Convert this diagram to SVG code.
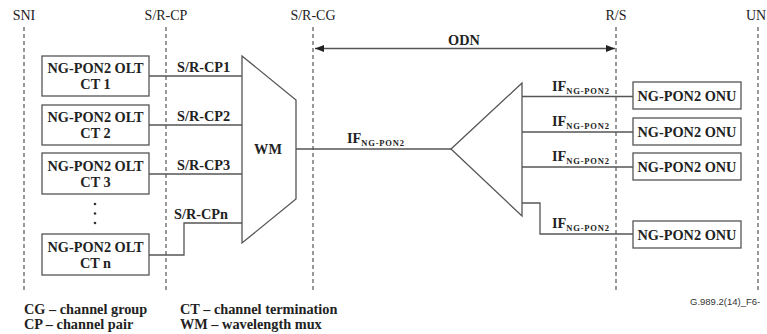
<svg xmlns="http://www.w3.org/2000/svg" width="767" height="334" viewBox="0 0 767 334">
<defs>
<style>
.bg{fill:#fff}
.ref{stroke:#555;stroke-width:1.2;stroke-dasharray:4,3;fill:none}
.ln{stroke:#555;stroke-width:1.3;fill:none}
.box{fill:#fff;stroke:#555;stroke-width:1.3}
.hdr{font-family:"Liberation Serif",serif;font-size:14px;fill:#222;text-anchor:middle}
.b{font-family:"Liberation Serif",serif;font-size:14.3px;font-weight:bold;fill:#222}
.c{text-anchor:middle}
.sub{font-size:8.5px;letter-spacing:0.8px}
.note{font-family:"Liberation Sans",sans-serif;font-size:9.5px;fill:#333}
</style>
<marker id="ah" viewBox="0 0 10 10" refX="10" refY="5" markerWidth="9" markerHeight="9" markerUnits="userSpaceOnUse" orient="auto-start-reverse">
<path d="M0,1 L10,5 L0,9 z" fill="#222"/>
</marker>
</defs>
<rect class="bg" x="0" y="0" width="767" height="334"/>

<g id="reference-points">
<line class="ref" x1="24" y1="27" x2="24" y2="292"/>
<line class="ref" x1="166" y1="27" x2="166" y2="292"/>
<line class="ref" x1="313" y1="27" x2="313" y2="292"/>
<line class="ref" x1="616" y1="27" x2="616" y2="292"/>
<line class="ref" x1="758" y1="27" x2="758" y2="292"/>
<text class="hdr" x="24" y="20">SNI</text>
<text class="hdr" x="166" y="20">S/R-CP</text>
<text class="hdr" x="313" y="20">S/R-CG</text>
<text class="hdr" x="616" y="20">R/S</text>
<text class="hdr" x="756" y="20">UN</text>
</g>

<g id="connectors">
<line class="ln" x1="315" y1="48.5" x2="615" y2="48.5" marker-start="url(#ah)" marker-end="url(#ah)"/>
<text class="b c" x="464" y="45">ODN</text>
<line class="ln" x1="149" y1="76" x2="242" y2="76"/>
<line class="ln" x1="149" y1="125" x2="242" y2="125"/>
<line class="ln" x1="149" y1="174" x2="242" y2="174"/>
<polyline class="ln" points="149,255 184,255 184,223 242,223"/>
<text class="b" x="177" y="72">S/R-CP1</text>
<text class="b" x="177" y="121">S/R-CP2</text>
<text class="b" x="177" y="170">S/R-CP3</text>
<text class="b" x="174" y="219">S/R-CPn</text>
<line class="ln" x1="296" y1="149" x2="451" y2="149"/>
<text class="b" x="347" y="143">IF<tspan class="sub" dy="3">NG-PON2</tspan></text>
<line class="ln" x1="522" y1="96.5" x2="633" y2="96.5"/>
<line class="ln" x1="522" y1="132" x2="633" y2="132"/>
<line class="ln" x1="522" y1="167" x2="633" y2="167"/>
<polyline class="ln" points="522,203 540,203 540,234 633,234"/>
<text class="b" x="552" y="91">IF<tspan class="sub" dy="3">NG-PON2</tspan></text>
<text class="b" x="552" y="126">IF<tspan class="sub" dy="3">NG-PON2</tspan></text>
<text class="b" x="552" y="161">IF<tspan class="sub" dy="3">NG-PON2</tspan></text>
<text class="b" x="552" y="228">IF<tspan class="sub" dy="3">NG-PON2</tspan></text>
</g>

<g id="olt-ct1">
<rect class="box" x="42" y="56" width="107" height="40"/>
<text class="b c" x="95.5" y="73">NG-PON2 OLT</text>
<text class="b c" x="95.5" y="89">CT 1</text>
</g>
<g id="olt-ct2">
<rect class="box" x="42" y="105" width="107" height="40"/>
<text class="b c" x="95.5" y="122">NG-PON2 OLT</text>
<text class="b c" x="95.5" y="138">CT 2</text>
</g>
<g id="olt-ct3">
<rect class="box" x="42" y="153" width="107" height="41"/>
<text class="b c" x="95.5" y="171">NG-PON2 OLT</text>
<text class="b c" x="95.5" y="187">CT 3</text>
</g>
<g id="dots">
<circle cx="95" cy="204" r="1.3" fill="#333"/>
<circle cx="95" cy="213.5" r="1.3" fill="#333"/>
<circle cx="95" cy="223" r="1.3" fill="#333"/>
</g>
<g id="olt-ctn">
<rect class="box" x="42" y="234" width="107" height="41"/>
<text class="b c" x="95.5" y="252">NG-PON2 OLT</text>
<text class="b c" x="95.5" y="268">CT n</text>
</g>

<g id="wm">
<polygon class="box" points="242,56 296,100 296,199 242,243"/>
<text class="b c" x="268" y="154">WM</text>
</g>

<g id="splitter">
<polygon class="box" points="451,149 522,83 522,216"/>
</g>

<g id="onu1">
<rect class="box" x="633" y="82" width="108" height="27"/>
<text class="b c" x="687" y="101">NG-PON2 ONU</text>
</g>
<g id="onu2">
<rect class="box" x="633" y="118" width="108" height="27"/>
<text class="b c" x="687" y="137">NG-PON2 ONU</text>
</g>
<g id="onu3">
<rect class="box" x="633" y="153" width="108" height="27"/>
<text class="b c" x="687" y="172">NG-PON2 ONU</text>
</g>
<g id="onu4">
<rect class="box" x="633" y="221" width="108" height="27"/>
<text class="b c" x="687" y="240">NG-PON2 ONU</text>
</g>

<g id="legend">
<text class="b" x="24" y="314">CG – channel group</text>
<text class="b" x="24" y="329">CP – channel pair</text>
<text class="b" x="180" y="314">CT – channel termination</text>
<text class="b" x="180" y="329">WM – wavelength mux</text>
<text class="note" x="690" y="305">G.989.2(14)_F6-</text>
</g>
</svg>
